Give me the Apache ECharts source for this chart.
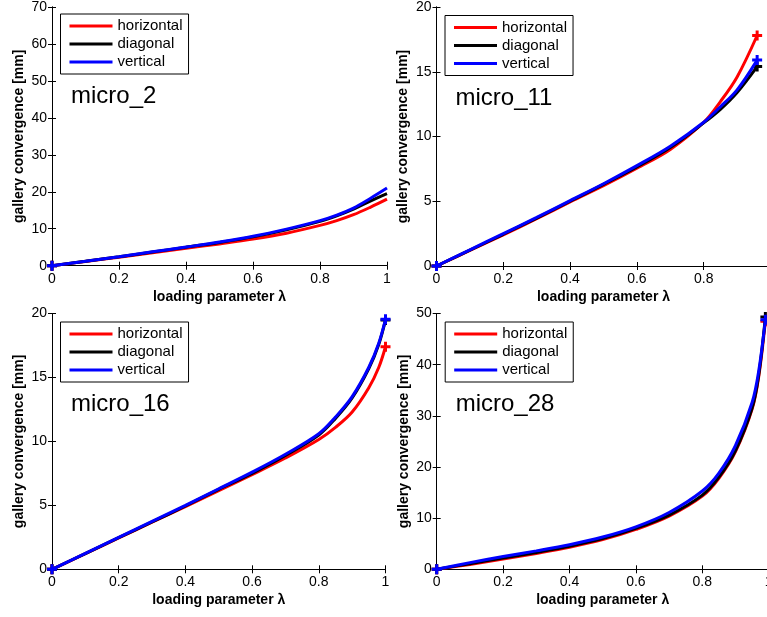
<!DOCTYPE html>
<html>
<head>
<meta charset="utf-8">
<script src="https://cdn.jsdelivr.net/npm/echarts@6/dist/echarts.min.js"></script>
<style>
  html, body { margin: 0; padding: 0; background: #fff; overflow: hidden; }
  #chart { width: 800px; height: 617px; }
</style>
</head>
<body>
<div id="chart"></div>
<script>
// Gallery convergence vs. loading parameter for four micro models

const seriesNames = ['horizontal', 'diagonal', 'vertical'];
const seriesColors = ['#ff0000', '#000000', '#0000ff'];
const xTicks = [0, 0.2, 0.4, 0.6, 0.8, 1];

// micro_2
const lam2 = [0, 0.1, 0.2, 0.3, 0.4, 0.5, 0.6, 0.7, 0.8, 0.85, 0.9, 0.95, 1.0];
const hor2 = [0, 1.15, 2.3, 3.5, 4.7, 5.9, 7.2, 8.8, 10.9, 12.2, 13.8, 15.8, 18.0];
const dia2 = [0, 1.2, 2.4, 3.7, 5.0, 6.3, 7.8, 9.7, 12.0, 13.5, 15.3, 17.5, 19.5];
const ver2 = [0, 1.2, 2.45, 3.75, 5.05, 6.4, 7.95, 9.9, 12.2, 13.7, 15.6, 18.2, 21.0];

// micro_11
const lam11 = [0, 0.1, 0.2, 0.3, 0.4, 0.5, 0.6, 0.7, 0.8, 0.85, 0.9, 0.96];
const hor11 = [0, 1.2, 2.4, 3.65, 4.95, 6.2, 7.55, 9.0, 11.1, 12.7, 14.6, 17.8];
const dia11 = [0, 1.22, 2.45, 3.7, 5.0, 6.3, 7.65, 9.15, 11.05, 12.1, 13.4, 15.4];
const ver11 = [0, 1.25, 2.5, 3.75, 5.05, 6.35, 7.75, 9.25, 11.1, 12.3, 13.6, 15.9];

// micro_16
const lam16 = [0, 0.1, 0.2, 0.3, 0.4, 0.5, 0.6, 0.7, 0.8, 0.85, 0.9, 0.95, 0.98, 1.0];
const hor16 = [0, 1.22, 2.45, 3.68, 4.9, 6.15, 7.4, 8.7, 10.15, 11.1, 12.3, 14.2, 15.8, 17.4];
const dia16 = [0, 1.23, 2.47, 3.7, 4.95, 6.25, 7.5, 8.9, 10.5, 11.8, 13.4, 15.7, 17.6, 19.5];
const ver16 = [0, 1.25, 2.5, 3.75, 5.0, 6.3, 7.6, 9.0, 10.6, 11.9, 13.5, 15.8, 17.7, 19.55];

// micro_28
const lam28 = [0, 0.1, 0.2, 0.3, 0.4, 0.5, 0.6, 0.7, 0.8, 0.85, 0.9, 0.95, 0.97, 0.99];
const hor28 = [0, 0.95, 2.0, 3.1, 4.3, 5.8, 7.8, 10.4, 14.3, 17.8, 23.0, 31.3, 37.7, 48.5];
const dia28 = [0, 1.1, 2.2, 3.3, 4.5, 6.0, 8.0, 10.6, 14.5, 18.0, 23.2, 31.5, 38.0, 49.3];
const ver28 = [0, 1.3, 2.5, 3.6, 4.8, 6.3, 8.3, 11.1, 15.3, 18.8, 24.2, 32.6, 38.8, 48.8];

const FONT = '"Liberation Sans", Arial, Helvetica, sans-serif';
const PLUS = 'path://M3.5,0H6.5V3.5H10V6.5H6.5V10H3.5V6.5H0V3.5H3.5Z';

const panels = [
  { title: 'micro_2',  lam: lam2,  vals: [hor2, dia2, ver2],   yMax: 70, yStep: 10, endMark: false,
    box: { left: 52, top: 5.5, width: 335, height: 260.2 } },
  { title: 'micro_11', lam: lam11, vals: [hor11, dia11, ver11], yMax: 20, yStep: 5, endMark: true,
    box: { left: 436.5, top: 7, width: 334, height: 259 } },
  { title: 'micro_16', lam: lam16, vals: [hor16, dia16, ver16], yMax: 20, yStep: 5, endMark: true,
    box: { left: 52, top: 313.5, width: 333.5, height: 255.8 } },
  { title: 'micro_28', lam: lam28, vals: [hor28, dia28, ver28], yMax: 50, yStep: 10, endMark: true,
    box: { left: 436.7, top: 313.5, width: 332, height: 255.8 } }
];

const axisLine = { show: true, lineStyle: { color: '#000', width: 1 } };
const tickIn = { show: true, inside: true, length: 4, lineStyle: { color: '#000', width: 1 } };

const option = {
  animation: false,
  backgroundColor: '#fff',
  grid: [], xAxis: [], yAxis: [], series: [], legend: [], title: []
};

panels.forEach((p, g) => {
  option.grid.push(Object.assign({ containLabel: false }, p.box));

  // bottom and top x axes (box with inward ticks)
  option.xAxis.push({
    type: 'value', gridIndex: g, min: 0, max: 1, interval: 0.2, position: 'bottom',
    axisLine, axisTick: tickIn, splitLine: { show: false },
    axisLabel: { margin: 6, fontSize: 14, color: '#000', fontFamily: FONT,
      formatter: v => String(+v.toFixed(1)) },
    name: 'loading parameter λ', nameLocation: 'middle', nameGap: 24,
    nameTextStyle: { fontSize: 14, fontWeight: 'bold', color: '#000', fontFamily: FONT }
  });
  option.xAxis.push({
    type: 'value', gridIndex: g, min: 0, max: 1, interval: 0.2, position: 'top',
    axisLine, axisTick: tickIn, axisLabel: { show: false }, splitLine: { show: false }
  });

  // left and right y axes
  option.yAxis.push({
    type: 'value', gridIndex: g, min: 0, max: p.yMax, interval: p.yStep, position: 'left',
    axisLine, axisTick: tickIn, splitLine: { show: false },
    axisLabel: { margin: 5, fontSize: 14, color: '#000', fontFamily: FONT },
    name: 'gallery convergence [mm]', nameLocation: 'middle', nameGap: 26,
    nameTextStyle: { fontSize: 14, fontWeight: 'bold', color: '#000', fontFamily: FONT }
  });
  option.yAxis.push({
    type: 'value', gridIndex: g, min: 0, max: p.yMax, interval: p.yStep, position: 'right',
    axisLine, axisTick: tickIn, axisLabel: { show: false }, splitLine: { show: false }
  });

  seriesNames.forEach((name, s) => {
    const ys = p.vals[s];
    const last = p.lam.length - 1;
    const data = p.lam.map((x, i) => {
      const marked = i === 0 || (p.endMark && i === last);
      return { value: [x, ys[i]], symbol: marked ? PLUS : 'none' };
    });
    option.series.push({
      type: 'line', name, xAxisIndex: 2 * g, yAxisIndex: 2 * g,
      data, smooth: 0.35,
      symbol: PLUS, symbolSize: 10, showSymbol: true, showAllSymbol: true,
      clip: false, color: seriesColors[s],
      lineStyle: { width: 3, color: seriesColors[s] },
      itemStyle: { color: seriesColors[s] },
      emphasis: { disabled: true }, z: 3 + s
    });
  });

  option.legend.push({
    data: seriesNames, orient: 'vertical',
    left: p.box.left + 8.5, top: p.box.top + 8.5,
    icon: 'rect', itemWidth: 43, itemHeight: 3, itemGap: 0,
    padding: [3, 6, 3, 9],
    borderColor: '#000', borderWidth: 1, backgroundColor: '#fff',
    textStyle: { fontSize: 15, color: '#000', fontFamily: FONT, lineHeight: 18 },
    selectedMode: false
  });

  option.title.push({
    text: p.title, left: p.box.left + 19, top: p.box.top + 79, padding: 0,
    textStyle: { fontSize: 24, fontWeight: 'normal', color: '#000', fontFamily: FONT }
  });
});

const chart = echarts.init(document.getElementById('chart'), null, { renderer: 'canvas' });
chart.setOption(option);
</script>
</body>
</html>
